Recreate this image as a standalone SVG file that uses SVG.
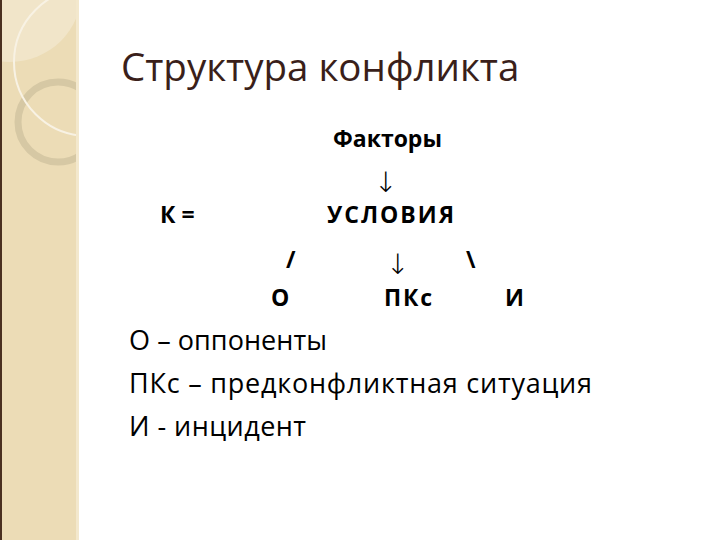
<svg xmlns="http://www.w3.org/2000/svg" width="720" height="540" viewBox="0 0 720 540">
<style>
.t{font-family:"Open Sans","Noto Sans","Liberation Sans",sans-serif;fill:#000}
.b{font-weight:bold;font-size:23px}
.l{font-size:27px}
.a{font-family:"DejaVu Sans",sans-serif;font-size:28px;font-weight:300;fill:#000}
</style>
<defs><clipPath id="sb"><rect x="0" y="0" width="79" height="540"/></clipPath></defs>
<rect width="720" height="540" fill="#fff"/>
<g id="sidebar">
<rect x="0" y="0" width="79" height="540" fill="#ecdcb6"/>
<g clip-path="url(#sb)">
<circle cx="10" cy="-10" r="72" fill="#f1e5c9"/>
<circle cx="58" cy="122" r="40" fill="none" stroke="#d6c8a4" stroke-width="7"/>
<circle cx="88" cy="62" r="74" fill="none" stroke="#f8f2e4" stroke-width="2"/>
</g>
<rect x="0" y="0" width="2" height="540" fill="#4a3020"/>
<rect x="76" y="0" width="3" height="540" fill="#f3e8cd"/>
</g>
<g id="title"><text x="121" y="81" style="font-family:'Open Sans','Noto Sans',sans-serif;font-size:38.5px;fill:#3a1f1a">Структура конфликта</text></g>
<g id="factors"><text class="t b" x="333" y="147">Факторы</text></g>
<g id="k"><text class="t b" x="160" y="223">К =</text></g>
<g id="usloviya"><text class="t b" x="327" y="223" textLength="127">УСЛОВИЯ</text></g>
<g id="o"><text class="t b" x="271" y="306">О</text></g>
<g id="pks"><text class="t b" x="384" y="306" textLength="48">ПКс</text></g>
<g id="i"><text class="t b" x="505" y="306">И</text></g>
<g id="connectors">
<text class="a" x="374" y="192">↓</text>
<text class="t b" x="286" y="268">/</text>
<text class="a" x="386" y="274">↓</text>
<text class="t b" x="466" y="268">\</text>
</g>
<g id="legend">
<text class="t l" x="129" y="350" textLength="198">О – оппоненты</text>
<text class="t l" x="129" y="393" textLength="463">ПКс – предконфликтная ситуация</text>
<text class="t l" x="129" y="436" textLength="177">И - инцидент</text>
</g>
</svg>
